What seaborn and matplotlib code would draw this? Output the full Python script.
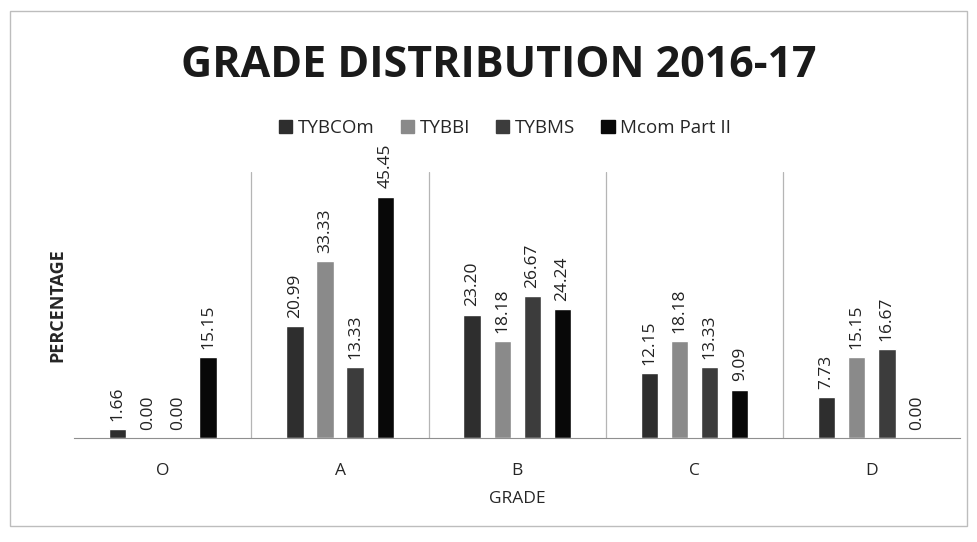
import numpy as np
import pandas as pd
import matplotlib.pyplot as plt
import matplotlib.patches as mpatches
import seaborn as sns

# ── Data ───────────────────────────────────────────────────────────────────
grades = ["O", "A", "B", "C", "D"]
courses = ["TYBCOm", "TYBBI", "TYBMS", "Mcom Part II"]
tybcom = [1.66, 20.99, 23.20, 12.15, 7.73]
tybbi = [0.00, 33.33, 18.18, 18.18, 15.15]
tybms = [0.00, 13.33, 26.67, 13.33, 16.67]
mcom = [15.15, 45.45, 24.24, 9.09, 0.00]

colors = ["#2e2e2e", "#8a8a8a", "#3c3c3c", "#080808"]

df = pd.DataFrame({"grade": grades * 4,
                   "course": np.repeat(courses, len(grades)),
                   "pct": tybcom + tybbi + tybms + mcom})

sns.set_style("white")
plt.rcParams["font.family"] = ["Open Sans", "DejaVu Sans"]

fig = plt.figure(figsize=(9.77, 5.42), dpi=100)
ax = fig.add_axes([0.076, 0.192, 0.907, 0.49])

sns.barplot(data=df, x="grade", y="pct", hue="course", order=grades,
            hue_order=courses, palette=colors, width=0.68, gap=0.42,
            legend=False, ax=ax)

for cont in ax.containers:
    ax.bar_label(cont, fmt="%.2f", rotation=90, padding=6, fontsize=12.5,
                 color="#222")

ax.set_ylim(0, 50)
ax.set_xlim(-0.5, 4.5)
ax.set_yticks([])
for x in [0.5, 1.5, 2.5, 3.5]:
    ax.axvline(x, color="#b5b5b5", linewidth=0.9, zorder=0)
for s in ["top", "right", "left"]:
    ax.spines[s].set_visible(False)
ax.spines["bottom"].set_color("#8f8f8f")
ax.tick_params(axis="x", length=0, pad=18, labelsize=12.5)

ax.set_xlabel("GRADE", fontsize=12.5, labelpad=9)
ax.set_ylabel("PERCENTAGE", fontsize=13, fontweight="bold", labelpad=6)

handles = [mpatches.Patch(color=c, label=l) for c, l in zip(colors, courses)]
fig.legend(handles=handles, loc="center", bbox_to_anchor=(0.517, 0.763),
           ncol=4, frameon=False, fontsize=13.5, handlelength=0.7,
           handleheight=0.7, handletextpad=0.3, columnspacing=1.4)

fig.text(0.511, 0.880, "GRADE DISTRIBUTION 2016-17", ha="center", va="center",
         fontsize=31, fontweight="bold", color="#1a1a1a")

fig.patches.append(mpatches.Rectangle((0.01, 0.03), 0.98, 0.95,
                                      transform=fig.transFigure, fill=False,
                                      edgecolor="#bdbdbd", linewidth=1))

fig.savefig("out.png", dpi=100)
